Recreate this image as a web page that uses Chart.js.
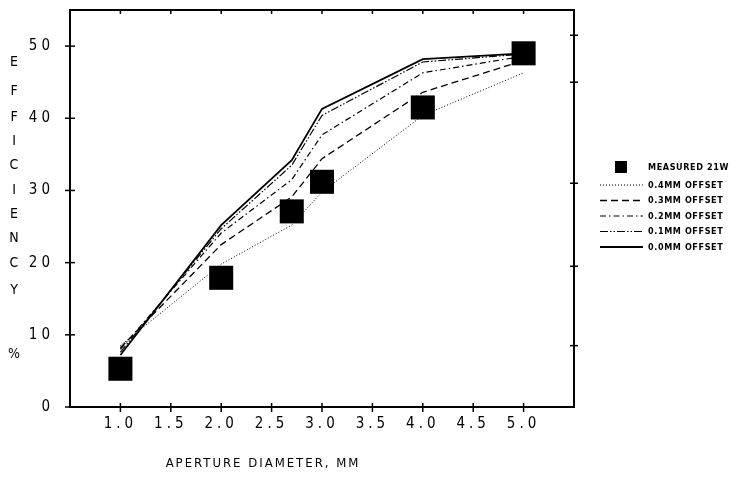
<!DOCTYPE html>
<html><head><meta charset="utf-8">
<script src="https://cdn.jsdelivr.net/npm/chart.js@4.4.0/dist/chart.umd.min.js"></script>
<style>html,body{margin:0;padding:0;background:#fff}#wrap{width:738px;height:479px}</style>
</head><body>
<div id="wrap"><canvas id="c" width="738" height="479"></canvas></div>
<script>
// ---- data ----
const apertures = [1.0, 2.0, 2.7, 3.0, 4.0, 5.0];
const measured21W = [5.3, 17.9, 27.1, 31.2, 41.5, 49.0];
const offset04 = [8.5, 19.8, 25.2, 29.8, 40.4, 46.3];
const offset03 = [8.2, 22.5, 29.1, 34.4, 43.6, 48.0];
const offset02 = [8.0, 24.1, 31.5, 37.7, 46.3, 48.6];
const offset01 = [7.6, 24.7, 33.5, 40.4, 47.8, 48.9];
const offset00 = [7.2, 25.2, 34.2, 41.3, 48.2, 49.0];
const seriesLabels = ['MEASURED 21W', '0.4MM OFFSET', '0.3MM OFFSET', '0.2MM OFFSET', '0.1MM OFFSET', '0.0MM OFFSET'];
const xTickValues = [1.0, 1.5, 2.0, 2.5, 3.0, 3.5, 4.0, 4.5, 5.0];
const yTickValues = [0, 10, 20, 30, 40, 50];
const rightTickValues = [51.5, 45, 31, 19.5, 8.5];
const xTitle = 'APERTURE DIAMETER, MM';
const yTitleLetters = ['E', 'F', 'F', 'I', 'C', 'I', 'E', 'N', 'C', 'Y', '%'];

const pts = arr => apertures.map((x, i) => ({x: x, y: arr[i]}));
const NARROW = "'Liberation Sans Narrow', 'DejaVu Sans Condensed', 'Liberation Sans', sans-serif";

function lineDs(label, arr, dash, width) {
  return {label, data: pts(arr), borderColor: '#000', borderWidth: width, borderDash: dash,
    pointRadius: 0, fill: false, tension: 0, order: 1};
}

const datasets = [
  {label: seriesLabels[0], data: pts(measured21W), showLine: false, pointStyle: 'rect',
   pointRadius: 17, pointHoverRadius: 17, backgroundColor: '#000', borderColor: '#000',
   borderWidth: 0, order: 0},
  lineDs(seriesLabels[1], offset04, [1, 2], 1),
  lineDs(seriesLabels[2], offset03, [7, 4], 1.3),
  lineDs(seriesLabels[3], offset02, [6, 3, 1.5, 3], 1.2),
  lineDs(seriesLabels[4], offset01, [8, 2, 1.5, 2, 1.5, 2], 1.2),
  lineDs(seriesLabels[5], offset00, [], 1.8)
];

function seg(ctx, x1, y1, x2, y2) { ctx.beginPath(); ctx.moveTo(x1, y1); ctx.lineTo(x2, y2); ctx.stroke(); }

const decor = {
  id: 'decor',
  beforeDraw(chart) { chart.ctx.letterSpacing = '4px'; },
  afterDraw(chart) {
    const ctx = chart.ctx;
    const {left, right, top, bottom} = chart.chartArea;
    const xs = chart.scales.x, ys = chart.scales.y;
    ctx.save();
    ctx.letterSpacing = '0px';
    ctx.strokeStyle = '#000';
    ctx.setLineDash([]);
    ctx.lineWidth = 2;
    ctx.strokeRect(left, top, right - left, bottom - top);
    ctx.lineWidth = 1.5;
    xTickValues.forEach(v => {
      const px = xs.getPixelForValue(v);
      seg(ctx, px, bottom - 4, px, bottom + 5);
      seg(ctx, px, top, px, top + 4);
    });
    yTickValues.forEach(v => {
      const py = ys.getPixelForValue(v);
      seg(ctx, left - 5, py, left + 5, py);
    });
    rightTickValues.forEach(v => {
      const py = ys.getPixelForValue(v);
      seg(ctx, right - 4, py, right + 4, py);
    });
    // x title
    ctx.fillStyle = '#000';
    ctx.font = '13px ' + NARROW;
    ctx.letterSpacing = '2px';
    ctx.textAlign = 'center';
    ctx.textBaseline = 'middle';
    ctx.fillText(xTitle, 263, 464);
    // y title (stacked letters)
    const yPos = [62, 91, 117, 141, 165, 190, 214, 238, 263, 290, 354];
    ctx.font = '14px ' + NARROW;
    ctx.letterSpacing = '0px';
    yTitleLetters.forEach((ch, i) => ctx.fillText(ch, 14, yPos[i]));
    // legend
    ctx.font = 'bold 9px ' + NARROW;
    ctx.letterSpacing = '0.6px';
    ctx.textAlign = 'left';
    chart.data.datasets.forEach((d, i) => {
      const yy = i === 0 ? 167 : 185 + (i - 1) * 15.5;
      if (d.showLine === false) {
        ctx.fillRect(615, yy - 6, 12, 12);
      } else {
        ctx.setLineDash(d.borderDash || []);
        ctx.lineWidth = d.borderWidth;
        seg(ctx, 600, yy, 643, yy);
        ctx.setLineDash([]);
      }
      ctx.fillText(d.label, 648, yy + 0.5);
    });
    ctx.restore();
  }
};

new Chart(document.getElementById('c'), {
  type: 'line',
  data: {datasets},
  options: {
    responsive: false,
    animation: false,
    devicePixelRatio: 1,
    layout: {autoPadding: false, padding: {left: 0, top: 10, right: 164, bottom: 0}},
    plugins: {legend: {display: false}, tooltip: {enabled: false}},
    scales: {
      x: {
        type: 'linear', min: 0.5, max: 5.5,
        grid: {display: false, drawTicks: false},
        border: {display: false},
        afterBuildTicks: s => { s.ticks = xTickValues.map(v => ({value: v})); },
        afterFit: s => { s.height = 72; s.paddingLeft = 0; s.paddingRight = 0; },
        ticks: {color: '#000', padding: 8, maxRotation: 0, autoSkip: false,
          font: {family: NARROW, size: 15},
          callback: v => Number(v).toFixed(1)}
      },
      y: {
        type: 'linear', min: 0, max: 55,
        grid: {display: false, drawTicks: false},
        border: {display: false},
        afterBuildTicks: s => { s.ticks = yTickValues.map(v => ({value: v})); },
        afterFit: s => { s.width = 70; s.paddingTop = 0; s.paddingBottom = 0; },
        ticks: {color: '#000', padding: 16, font: {family: NARROW, size: 15},
          callback: v => String(v)}
      }
    }
  },
  plugins: [decor]
});
</script>
</body></html>
